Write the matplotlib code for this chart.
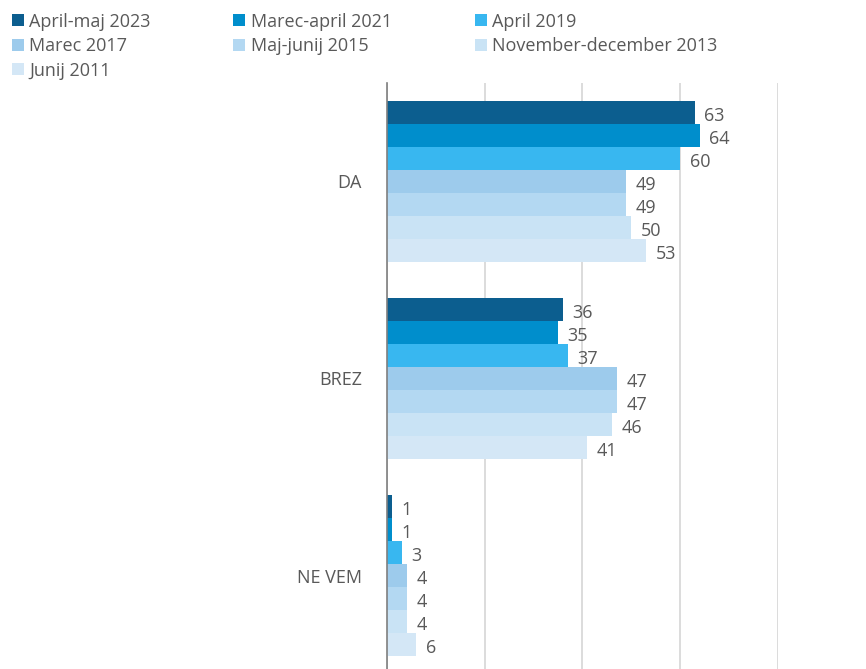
import numpy as np
import matplotlib.pyplot as plt

# survey answers and waves
categories = ['DA', 'BREZ', 'NE VEM']
waves = ['April-maj 2023', 'Marec-april 2021', 'April 2019', 'Marec 2017',
         'Maj-junij 2015', 'November-december 2013', 'Junij 2011']
values = [
    [63, 36, 1],   # 2023
    [64, 35, 1],   # 2021
    [60, 37, 3],   # 2019
    [49, 47, 4],   # 2017
    [49, 47, 4],   # 2015
    [50, 46, 4],   # 2013
    [53, 41, 6],   # 2011
]
colors = ['#0C5E8F', '#008ECC', '#38B7F0', '#9DCBEC', '#B3D8F2', '#C9E3F5', '#D4E7F6']

plt.rcParams['font.family'] = ['Open Sans', 'DejaVu Sans']
txt_color = '#595959'
fs = 13

fig = plt.figure(figsize=(8.66, 6.69), dpi=100)
ax = fig.add_axes([0.447, -0.0075, 0.451, 0.8835])

y = np.arange(len(categories))
h = 0.1168
bars = []
for k, (wave, vals) in enumerate(zip(waves, values)):
    pos = y - 3 * h + k * h
    b = ax.barh(pos, vals, height=h, color=colors[k], label=wave, zorder=2)
    bars.append(b)
    for p, v in zip(pos, vals):
        ax.text(v + 2.0, p + 0.02, str(v), va='center', ha='left',
                fontsize=fs, color=txt_color)

ax.set_xlim(0, 80)
ax.set_ylim(2.5, -0.5)
ax.set_xticks([0, 20, 40, 60, 80])
ax.xaxis.grid(True, color='#D9D9D9', linewidth=1.3, zorder=0)
ax.tick_params(axis='x', length=0, labelbottom=False)
ax.tick_params(axis='y', length=0, pad=18)
ax.set_yticks(y)
ax.set_yticklabels(categories, fontsize=fs, color=txt_color)
for s in ['top', 'right', 'bottom']:
    ax.spines[s].set_visible(False)
ax.spines['left'].set_color('#7F7F7F')
ax.spines['left'].set_linewidth(1.2)
ax.spines['left'].set_zorder(3)

# legend: row-major order like the reference
order = [0, 3, 6, 1, 4, 2, 5]
fig.legend([bars[i] for i in order], [waves[i] for i in order],
           loc='upper left', bbox_to_anchor=(-0.001, 1.0), ncol=3,
           frameon=False, fontsize=fs, labelcolor=txt_color,
           handlelength=0.65, handleheight=0.65, handletextpad=0.3,
           columnspacing=4.6, labelspacing=0.36, borderaxespad=0.3)

fig.savefig('out.png', dpi=100)
